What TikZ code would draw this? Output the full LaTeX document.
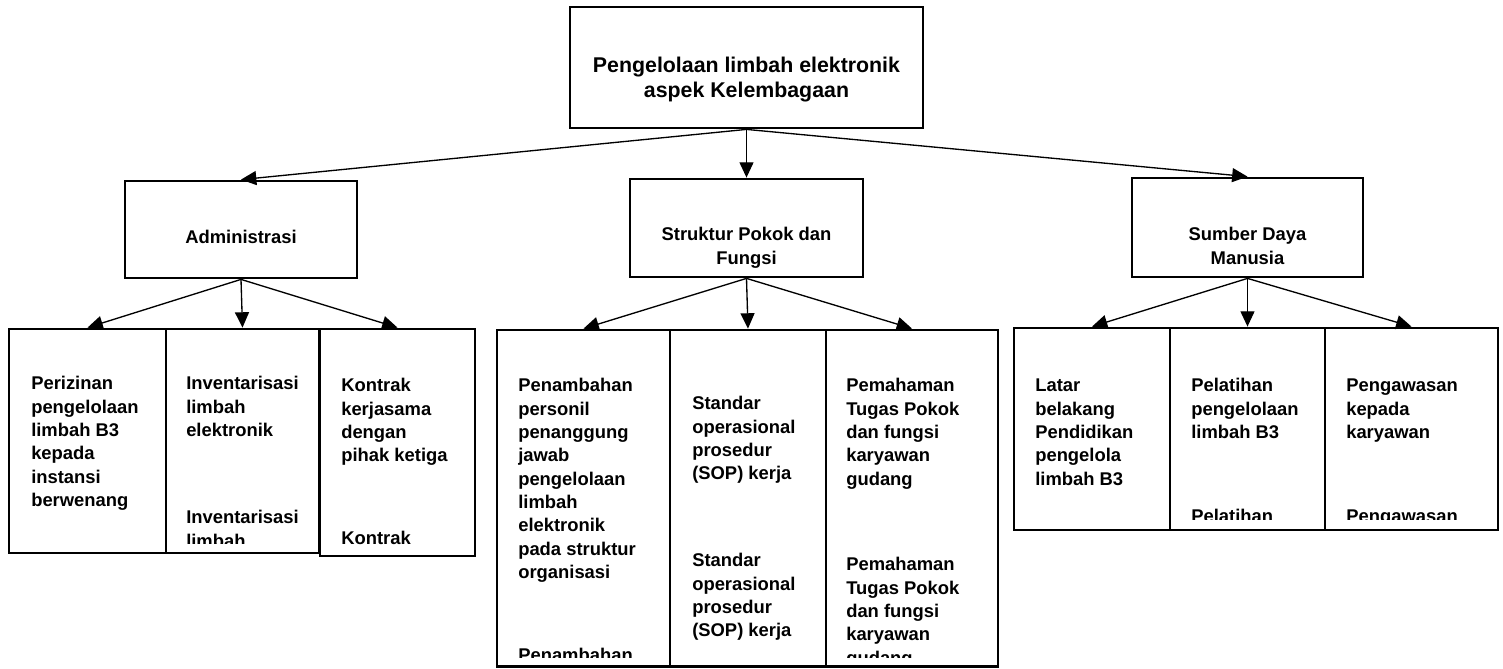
\documentclass[tikz,border=0pt]{standalone}
\usepackage{fontspec}
\setmainfont{Liberation Sans}
\usetikzlibrary{arrows.meta,fit}

\begin{document}
\begin{tikzpicture}[x=0.75pt,y=-0.75pt,
  box/.style={draw, line width=2.1pt, inner sep=0pt, fit={#1}},
  link/.style={line width=1pt, -{Triangle[length=11.5pt,width=10.5pt]}},
  celltext/.style={anchor=north west, inner sep=0pt, align=left,
    font=\bfseries\fontsize{13.8}{17.5}\selectfont},
  midtext/.style={anchor=north, inner sep=0pt, align=center,
    font=\bfseries\fontsize{13.8}{17.5}\selectfont},
  toptext/.style={anchor=north, inner sep=0pt, align=center,
    font=\bfseries\fontsize{16}{18.75}\selectfont},
]
\useasboundingbox (0,0) rectangle (1503,668);

% root
\node[box={(570,7)(923,128)}] (root) {};
\node[toptext] (root-t) at (746.5,54.9)
  {\strut Pengelolaan limbah elektronik\\aspek Kelembagaan};

% second level
\node[box={(125,181)(357,278)}] (adm) {};
\node[midtext] (adm-t) at (241,227.3) {\strut Administrasi};
\node[box={(630,179)(863,277)}] (str) {};
\node[midtext] (str-t) at (746.5,224.3) {\strut Struktur Pokok dan\\Fungsi};
\node[box={(1132,178)(1363,277)}] (sdm) {};
\node[midtext] (sdm-t) at (1247.5,224.3) {\strut Sumber Daya\\Manusia};

% Administrasi children
\node[box={(9,329)(166,553)}] (a1) {};
\node[box={(166,329)(319,553)}] (a2) {};
\node[box={(320,329)(475,556)}] (a3) {};
\node[celltext] (a1-t) at (31,373.3)
  {\strut Perizinan\\pengelolaan\\limbah B3\\kepada\\instansi\\berwenang};
\node[celltext] (a2-t) at (186,373.3)
  {\strut Inventarisasi\\limbah\\elektronik};
\node[celltext] (a3-t) at (341,375.3)
  {\strut Kontrak\\kerjasama\\dengan\\pihak ketiga};
\begin{scope}
  \clip (167,330) rectangle (318,543);
  \node[celltext] (a2-r) at (186,507.3) {\strut Inventarisasi\\limbah};
\end{scope}
\begin{scope}
  \clip (321,330) rectangle (474,544);
  \node[celltext] (a3-r) at (341,528.3) {\strut Kontrak};
\end{scope}

% Struktur children
\node[box={(497,330)(670,666.5)}] (s1) {};
\node[box={(670,330)(826,666.5)}] (s2) {};
\node[box={(826,330)(998,666.5)}] (s3) {};
\node[celltext] (s1-t) at (518,375.3)
  {\strut Penambahan\\personil\\penanggung\\jawab\\pengelolaan\\limbah\\elektronik\\pada struktur\\organisasi};
\node[celltext] (s2-t) at (692,393.3)
  {\strut Standar\\operasional\\prosedur\\(SOP) kerja};
\node[celltext] (s2-r) at (692,550.3)
  {\strut Standar\\operasional\\prosedur\\(SOP) kerja};
\node[celltext] (s3-t) at (846,375.3)
  {\strut Pemahaman\\Tugas Pokok\\dan fungsi\\karyawan\\gudang};
\begin{scope}
  \clip (498,331) rectangle (669,657);
  \node[celltext] (s1-r) at (518,645.3) {\strut Penambahan};
\end{scope}
\begin{scope}
  \clip (827,331) rectangle (997,657);
  \node[celltext] (s3-r) at (846,554.3)
    {\strut Pemahaman\\Tugas Pokok\\dan fungsi\\karyawan\\gudang};
\end{scope}

% Sumber Daya Manusia children
\node[box={(1014,328)(1170,530)}] (m1) {};
\node[box={(1170,328)(1325,530)}] (m2) {};
\node[box={(1325,328)(1498,530)}] (m3) {};
\node[celltext] (m1-t) at (1035,375.3)
  {\strut Latar\\belakang\\Pendidikan\\pengelola\\limbah B3};
\node[celltext] (m2-t) at (1191,375.3)
  {\strut Pelatihan\\pengelolaan\\limbah B3};
\node[celltext] (m3-t) at (1346,375.3)
  {\strut Pengawasan\\kepada\\karyawan};
\begin{scope}
  \clip (1171,329) rectangle (1324,519);
  \node[celltext] (m2-r) at (1191,506.3) {\strut Pelatihan};
\end{scope}
\begin{scope}
  \clip (1326,329) rectangle (1497,519);
  \node[celltext] (m3-r) at (1346,506.3) {\strut Pengawasan};
\end{scope}

% connectors
\draw[link] (root.south) -- (adm.north);
\draw[link] (root.south) -- (str.north);
\draw[link] (root.south) -- (sdm.north);
\foreach \p/\c in {adm/a1,adm/a2,adm/a3,str/s1,str/s2,str/s3,sdm/m1,sdm/m2,sdm/m3}
  \draw[link] (\p.south) -- (\c.north);
\end{tikzpicture}
\end{document}
